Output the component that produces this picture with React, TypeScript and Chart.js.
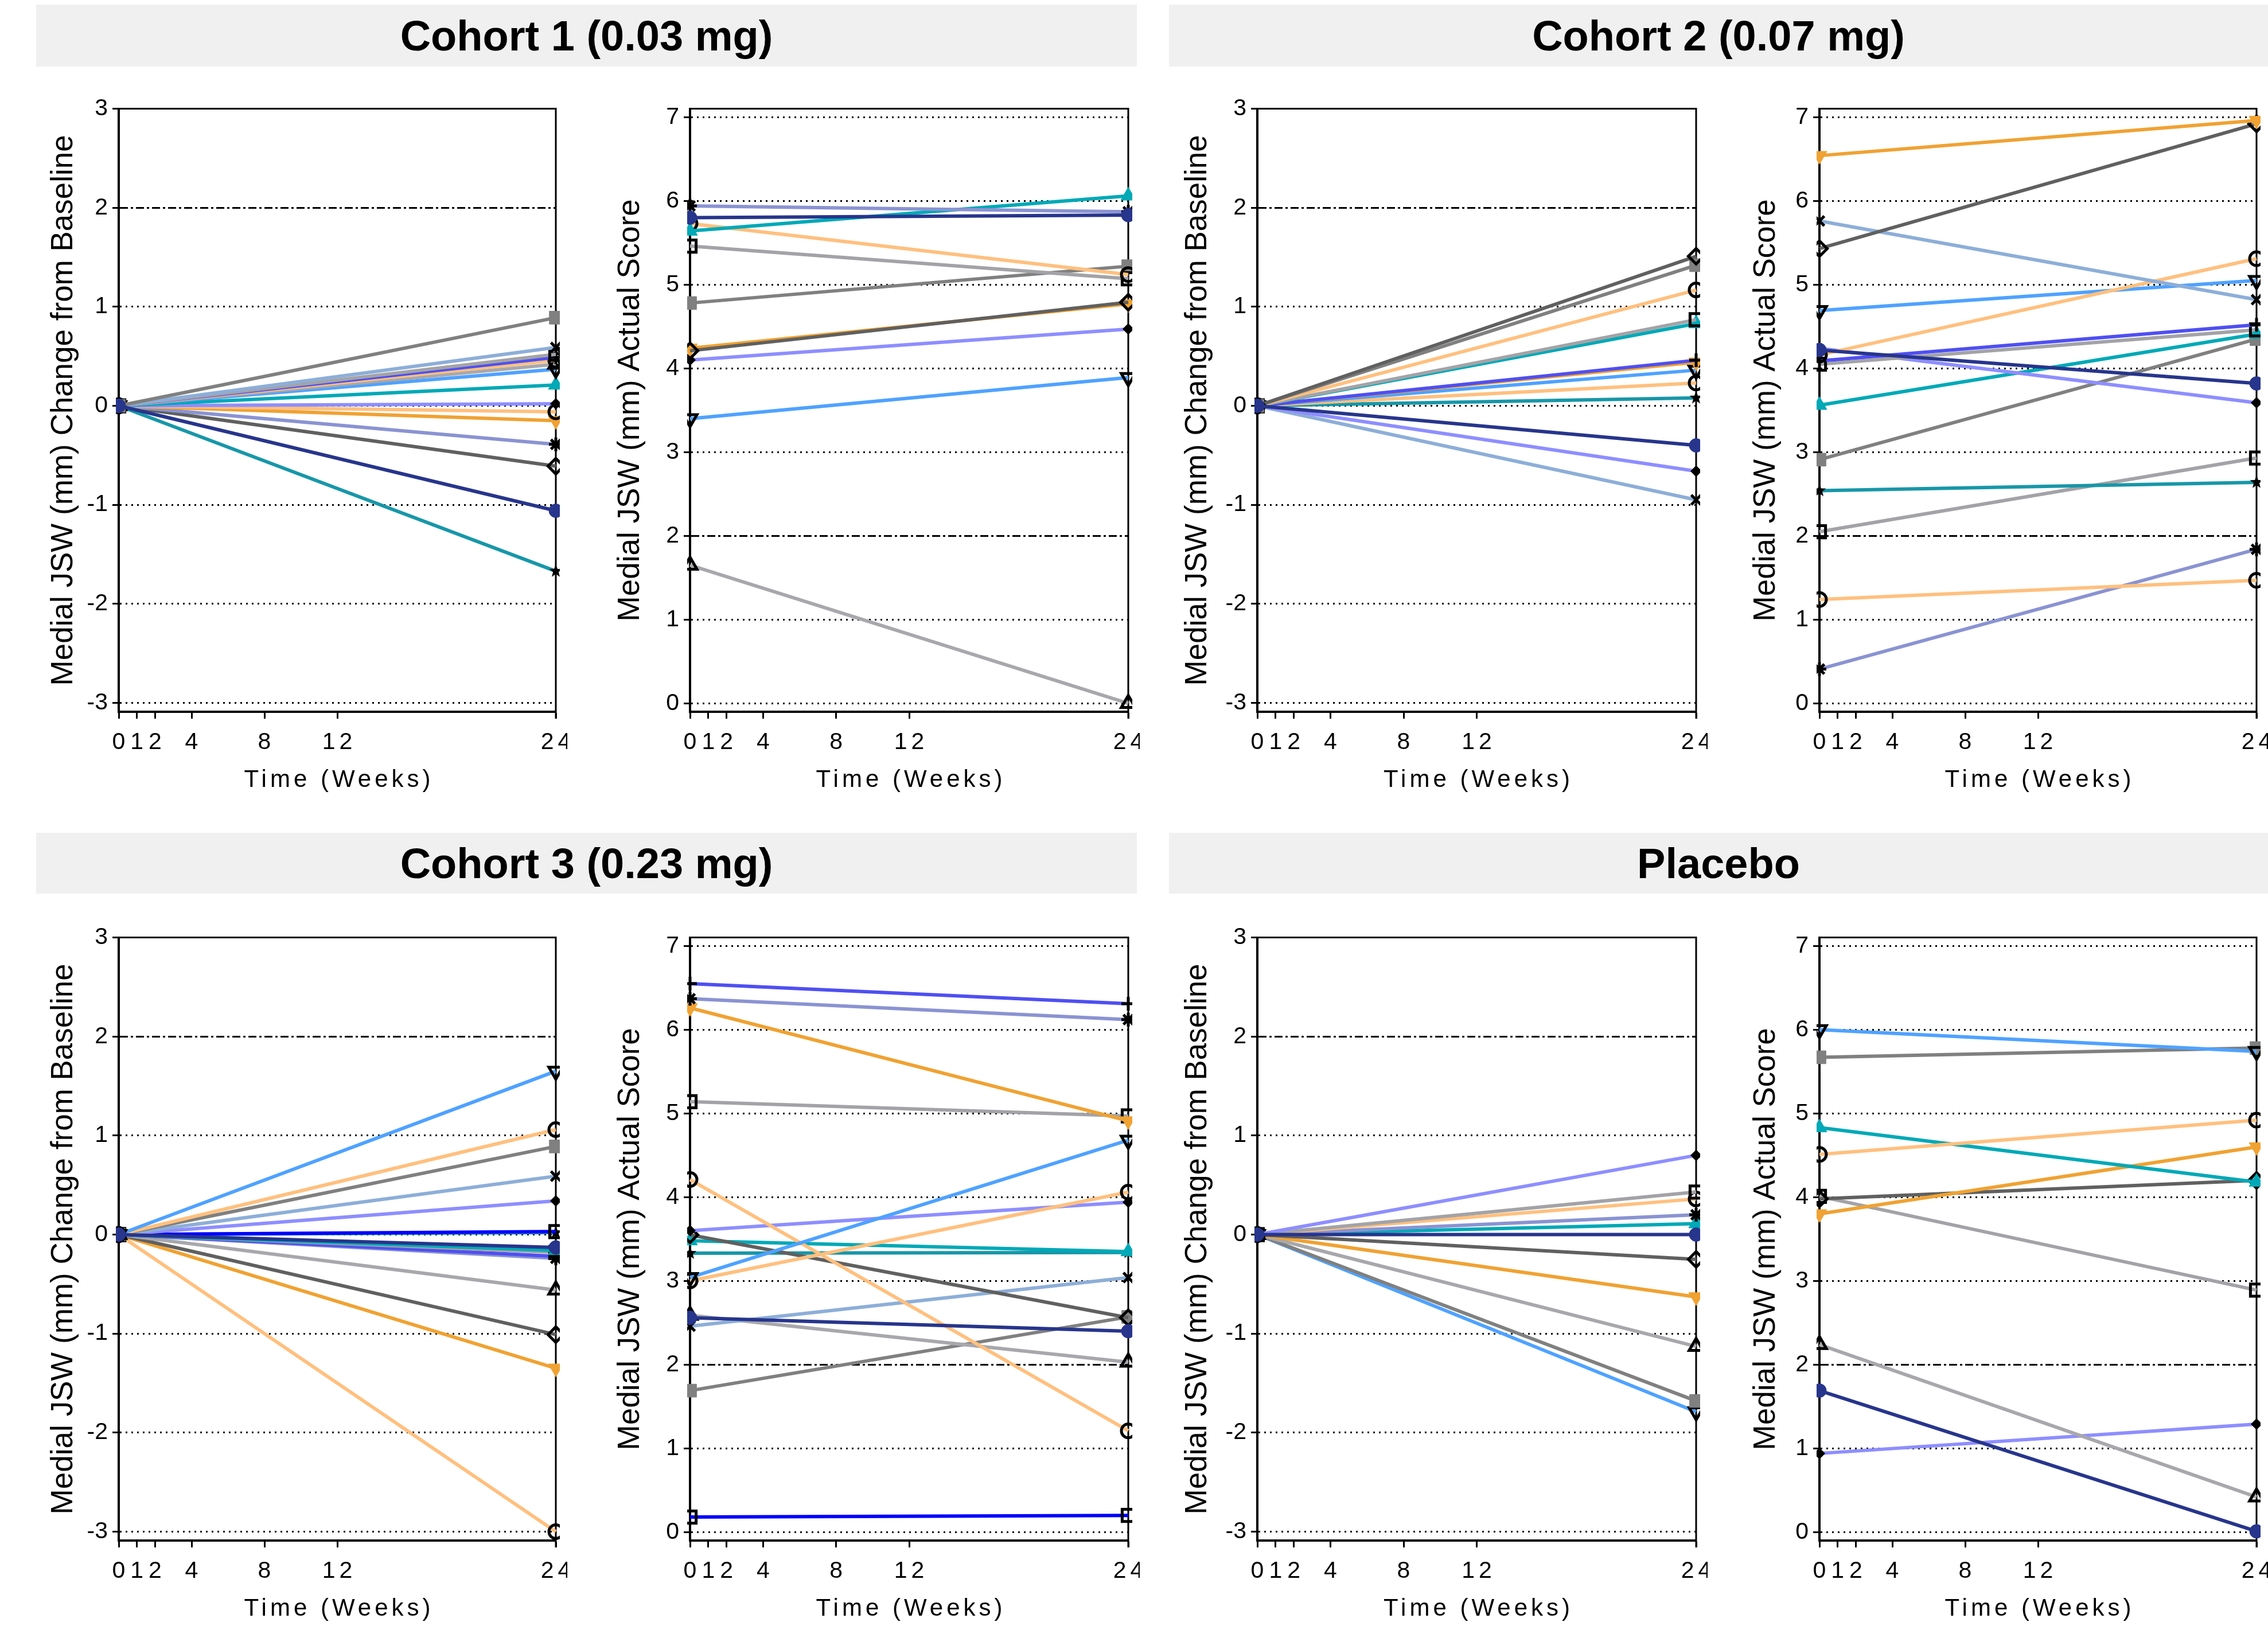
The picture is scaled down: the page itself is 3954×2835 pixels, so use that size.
import React, { useEffect, useRef } from 'react';
import { Chart, registerables } from 'chart.js';

Chart.register(...registerables);

const FONT = "'Liberation Sans', Arial, Helvetica, sans-serif";
const NARROW = "'Liberation Sans Narrow', 'Arial Narrow', 'Liberation Sans', Arial, sans-serif";
Chart.defaults.font.family = FONT;

// ---------------- data ----------------
const weeks = [0, 24];
const xTickValues = [0, 1, 2, 4, 8, 12, 24];
const xTickLabels = ['0', '1', '2', '4', '8', '12', '24'];
const changeTicks = [-3, -2, -1, 0, 1, 2, 3];
const actualTicks = [0, 1, 2, 3, 4, 5, 6, 7];
const baselineChange = 0;
const referenceLevel = 2;

const panelTitles = ['Cohort 1 (0.03 mg)', 'Cohort 2 (0.07 mg)', 'Cohort 3 (0.23 mg)', 'Placebo'];
const changeAxisTitle = 'Medial JSW (mm) Change from Baseline';
const actualAxisTitle = 'Medial JSW (mm) Actual Score';
const timeAxisTitle = 'Time (Weeks)';

// Cohort 1
const cohort1ChangeSubjects = ['A', 'B', 'C', 'N', 'E', 'K', 'J', 'D', 'F', 'E', 'L', 'H', 'G', 'I', 'M'];
const cohort1ChangeWeek24 = [0.89, 0.59, 0.52, 0.49, 0.46, 0.42, 0.37, 0.21, 0.02, -0.06, -0.15, -0.39, -0.61, -1.06, -1.67];
const cohort1ActualSubjects = ['H', 'I', 'D', 'E', 'C', 'A', 'G', 'L', 'F', 'J', 'K'];
const cohort1ActualWeek0 = [5.94, 5.80, 5.64, 5.73, 5.46, 4.78, 4.21, 4.24, 4.10, 3.40, 1.65];
const cohort1ActualWeek24 = [5.87, 5.83, 6.06, 5.12, 5.07, 5.22, 4.79, 4.77, 4.47, 3.89, 0.0];

// Cohort 2
const cohort2ChangeSubjects = ['G', 'A', 'E', 'C', 'D', 'N', 'L', 'J', 'E', 'M', 'I', 'F', 'B'];
const cohort2ChangeWeek24 = [1.51, 1.42, 1.17, 0.87, 0.83, 0.46, 0.44, 0.36, 0.23, 0.08, -0.40, -0.66, -0.95];
const cohort2ActualSubjects = ['L', 'G', 'B', 'E', 'J', 'N', 'C', 'I', 'F', 'D', 'A', 'M', 'C', 'E', 'H'];
const cohort2ActualWeek0 = [6.54, 5.43, 5.76, 4.16, 4.69, 4.09, 4.05, 4.22, 4.24, 3.56, 2.91, 2.54, 2.05, 1.24, 0.41];
const cohort2ActualWeek24 = [6.96, 6.92, 4.82, 5.31, 5.05, 4.52, 4.46, 3.82, 3.59, 4.41, 4.35, 2.64, 2.93, 1.47, 1.84];

// Cohort 3
const cohort3ChangeSubjects = ['J', 'E', 'A', 'B', 'F', 'O', 'M', 'I', 'D', 'C', 'N', 'H', 'K', 'G', 'L', 'E'];
const cohort3ChangeWeek24 = [1.65, 1.06, 0.89, 0.59, 0.34, 0.03, 0.02, -0.13, -0.16, -0.18, -0.22, -0.24, -0.56, -1.01, -1.35, -3.0];
const cohort3ActualSubjects = ['N', 'H', 'L', 'C', 'J', 'E', 'E', 'F', 'G', 'D', 'M', 'B', 'I', 'K', 'A', 'O'];
const cohort3ActualWeek0 = [6.55, 6.37, 6.26, 5.14, 3.04, 4.21, 3.00, 3.60, 3.55, 3.48, 3.33, 2.46, 2.56, 2.59, 1.69, 0.18];
const cohort3ActualWeek24 = [6.31, 6.12, 4.91, 4.97, 4.68, 1.21, 4.06, 3.94, 2.56, 3.35, 3.34, 3.04, 2.40, 2.03, 2.57, 0.20];

// Placebo
const placeboChangeSubjects = ['F', 'C', 'E', 'H', 'D', 'I', 'G', 'L', 'K', 'A', 'J'];
const placeboChangeWeek24 = [0.80, 0.43, 0.36, 0.20, 0.11, 0.0, -0.25, -0.63, -1.13, -1.68, -1.79];
const placeboActualSubjects = ['J', 'A', 'E', 'D', 'L', 'G', 'C', 'K', 'I', 'F'];
const placeboActualWeek0 = [6.00, 5.67, 4.51, 4.83, 3.80, 3.98, 4.01, 2.24, 1.69, 0.94];
const placeboActualWeek24 = [5.74, 5.78, 4.92, 4.18, 4.60, 4.20, 2.89, 0.42, 0.01, 1.29];

// ---------------- styles ----------------
const CLEAR = 'rgba(0,0,0,0)';
const STYLES: any = {
  A: { color: '#808080', point: 'rect', radius: 16, fill: '#808080', stroke: '#808080', pw: 1 },
  B: { color: '#8DAED8', point: 'crossRot', radius: 12, fill: CLEAR, stroke: '#000', pw: 5 },
  C: { color: '#A3A3A7', point: 'rect', radius: 15, fill: CLEAR, stroke: '#000', pw: 5 },
  D: { color: '#00A9B7', point: 'triangle', radius: 15, fill: '#00A9B7', stroke: '#00A9B7', pw: 1 },
  E: { color: '#FFC07F', point: 'circle', radius: 12, fill: CLEAR, stroke: '#000', pw: 5 },
  F: { color: '#8E8EFF', point: 'rectRot', radius: 9.5, fill: '#000', stroke: '#000', pw: 1 },
  G: { color: '#606060', point: 'rectRot', radius: 13.5, fill: CLEAR, stroke: '#000', pw: 5 },
  H: { color: '#8A93D2', point: 'star', radius: 12, fill: '#000', stroke: '#000', pw: 5 },
  I: { color: '#27358C', point: 'circle', radius: 12, fill: '#27358C', stroke: '#27358C', pw: 1 },
  J: { color: '#4FA2FF', point: 'triangle', rot: 180, radius: 14, fill: CLEAR, stroke: '#000', pw: 5 },
  K: { color: '#A8A8AC', point: 'triangle', radius: 14, fill: CLEAR, stroke: '#000', pw: 5 },
  L: { color: '#F0A232', point: 'triangle', rot: 180, radius: 15, fill: '#F0A232', stroke: '#F0A232', pw: 1 },
  M: { color: '#1797A8', point: 'starFilled', radius: 10, fill: '#000', stroke: '#000', pw: 1 },
  N: { color: '#4F4FF2', point: 'cross', radius: 12, fill: '#000', stroke: '#000', pw: 5 },
  O: { color: '#0000FF', point: 'rect', radius: 15, fill: CLEAR, stroke: '#000', pw: 5 },
};

// ---------------- layout ----------------
const PAD_T = 30;
const PAD_R = 14;
const X_AXIS_H = 170;
const ROWS = [
  { top: 187, bottom: 1241, headerTop: 8, headerH: 108 },
  { top: 1632, bottom: 2686, headerTop: 1452, headerH: 106 },
];
const COLS = [
  { axis: 207, right: 975, title: 111 },
  { axis: 1203, right: 1973, title: 1099 },
  { axis: 2192, right: 2963, title: 2088 },
  { axis: 3172, right: 3940, title: 3079 },
];
const HEADERS = [
  { left: 63, width: 1919 },
  { left: 2038, width: 1916 },
];

let starCache: any = null;
function starImage() {
  if (starCache) return starCache;
  const size = 24;
  const c = document.createElement('canvas');
  c.width = size;
  c.height = size;
  const g = c.getContext('2d') as CanvasRenderingContext2D;
  const R = size / 2;
  const r = R * 0.42;
  g.beginPath();
  for (let i = 0; i < 10; i++) {
    const ang = -Math.PI / 2 + (i * Math.PI) / 5;
    const rad = i % 2 === 0 ? R : r;
    const px = R + rad * Math.cos(ang);
    const py = R + rad * Math.sin(ang);
    if (i === 0) g.moveTo(px, py);
    else g.lineTo(px, py);
  }
  g.closePath();
  g.fillStyle = '#000';
  g.fill();
  starCache = c;
  return c;
}

function makeDataset(subject: string, y0: number, y24: number) {
  const st = STYLES[subject];
  return {
    data: [
      { x: weeks[0], y: y0 },
      { x: weeks[1], y: y24 },
    ],
    borderColor: st.color,
    backgroundColor: st.color,
    borderWidth: 6,
    tension: 0,
    fill: false,
    pointStyle: st.point === 'starFilled' ? starImage() : st.point,
    pointRadius: st.radius,
    pointRotation: st.rot || 0,
    pointBackgroundColor: st.fill,
    pointBorderColor: st.stroke,
    pointBorderWidth: st.pw,
    clip: { left: 5, right: 7, top: 40, bottom: 40 },
    order: subject === 'I' ? -1 : 0,
  };
}

function changeDatasets(subjects: string[], week24: number[]) {
  return subjects.map((s, i) => makeDataset(s, baselineChange, week24[i]));
}
function actualDatasets(subjects: string[], week0: number[], week24: number[]) {
  return subjects.map((s, i) => makeDataset(s, week0[i], week24[i]));
}

const framePlugin = {
  id: 'frame',
  beforeDatasetsDraw(chart: any) {
    const { ctx, chartArea: a } = chart;
    ctx.save();
    ctx.strokeStyle = '#000';
    ctx.lineWidth = 3;
    ctx.setLineDash([]);
    ctx.beginPath();
    ctx.moveTo(a.left, a.top);
    ctx.lineTo(a.right, a.top);
    ctx.lineTo(a.right, a.bottom + 12);
    ctx.stroke();
    ctx.restore();
  },
};

const xLabelPlugin = {
  id: 'xLabels',
  afterDraw(chart: any) {
    const { ctx } = chart;
    const xs = chart.scales.x;
    ctx.save();
    ctx.fillStyle = '#000';
    ctx.textAlign = 'center';
    ctx.textBaseline = 'middle';
    ctx.font = `41px ${NARROW}`;
    const sp1 = 7;
    (ctx as any).letterSpacing = `${sp1}px`;
    xTickValues.forEach((v, i) => {
      ctx.fillText(xTickLabels[i], xs.getPixelForValue(v) + sp1 / 2, xs.top + 54);
    });
    ctx.font = `42px ${FONT}`;
    const sp2 = 6;
    (ctx as any).letterSpacing = `${sp2}px`;
    ctx.fillText(timeAxisTitle, (chart.chartArea.left + chart.chartArea.right) / 2 + sp2 / 2, xs.top + 119);
    ctx.restore();
  },
};

function Panel({ row, col, kind, datasets }: any) {
  const ref = useRef<HTMLCanvasElement>(null);
  const R = ROWS[row];
  const C = COLS[col];
  const left = C.title - 40;
  const yWidth = C.axis - left;
  const width = C.right - left + PAD_R;
  const top = R.top - PAD_T;
  const height = PAD_T + (R.bottom - R.top) + X_AXIS_H;
  const isChange = kind === 'change';
  const yTicks = isChange ? changeTicks : actualTicks;

  useEffect(() => {
    if (!ref.current) return;
    const chart = new Chart(ref.current, {
      type: 'line',
      data: { datasets },
      plugins: [framePlugin, xLabelPlugin],
      options: {
        responsive: false,
        animation: false,
        devicePixelRatio: 1,
        events: [],
        layout: { padding: { left: 0, right: PAD_R, top: PAD_T, bottom: 0 } },
        plugins: { legend: { display: false }, tooltip: { enabled: false }, title: { display: false } },
        scales: {
          x: {
            type: 'linear',
            min: 0,
            max: 24,
            afterBuildTicks: (s: any) => {
              s.ticks = xTickValues.map((v) => ({ value: v }));
            },
            afterFit: (s: any) => {
              s.height = X_AXIS_H;
            },
            grid: { drawOnChartArea: false, drawTicks: true, tickLength: 12, tickWidth: 3, tickColor: '#000' },
            border: { display: true, color: '#000', width: 4 },
            ticks: { display: false },
          },
          y: {
            type: 'linear',
            min: isChange ? -3.09 : -0.1,
            max: isChange ? 3 : 7.1,
            afterBuildTicks: (s: any) => {
              s.ticks = yTicks.map((v) => ({ value: v }));
            },
            afterFit: (s: any) => {
              s.width = yWidth;
            },
            grid: {
              color: '#000',
              lineWidth: 3,
              drawTicks: true,
              tickLength: 11,
              tickWidth: 3,
              tickColor: '#000',
              tickBorderDash: [],
            },
            border: {
              display: true,
              color: '#000',
              width: 4,
              dash: (c: any) => (c && c.tick ? (c.tick.value === referenceLevel ? [14, 5, 4, 5] : [3, 7]) : []),
            },
            ticks: { color: '#000', font: { size: 41, family: NARROW }, padding: 8 },
            title: {
              display: true,
              text: isChange ? changeAxisTitle : actualAxisTitle,
              color: '#000',
              font: { size: 53, lineHeight: 1, family: FONT },
              padding: { top: 13.5, bottom: 0 },
            },
          },
        },
      } as any,
    } as any);
    return () => chart.destroy();
  }, []);

  return (
    <canvas
      ref={ref}
      width={width}
      height={height}
      style={{ position: 'absolute', left, top, width, height }}
    />
  );
}

function Header({ row, col, text }: any) {
  const R = ROWS[row];
  const H = HEADERS[col];
  return (
    <div
      style={{
        position: 'absolute',
        left: H.left,
        top: R.headerTop,
        width: H.width,
        height: R.headerH,
        background: '#F0F0F0',
        display: 'flex',
        alignItems: 'center',
        justifyContent: 'center',
        fontFamily: FONT,
        fontWeight: 'bold',
        fontSize: 74,
        color: '#000',
        whiteSpace: 'nowrap',
      }}
    >
      {text}
    </div>
  );
}

export default function App() {
  return (
    <div
      style={{
        position: 'fixed',
        left: 0,
        top: 0,
        width: 3954,
        height: 2835,
        background: '#fff',
        overflow: 'hidden',
      }}
    >
      <Header row={0} col={0} text={panelTitles[0]} />
      <Header row={0} col={1} text={panelTitles[1]} />
      <Header row={1} col={0} text={panelTitles[2]} />
      <Header row={1} col={1} text={panelTitles[3]} />

      <Panel row={0} col={0} kind="change" datasets={changeDatasets(cohort1ChangeSubjects, cohort1ChangeWeek24)} />
      <Panel row={0} col={1} kind="actual" datasets={actualDatasets(cohort1ActualSubjects, cohort1ActualWeek0, cohort1ActualWeek24)} />
      <Panel row={0} col={2} kind="change" datasets={changeDatasets(cohort2ChangeSubjects, cohort2ChangeWeek24)} />
      <Panel row={0} col={3} kind="actual" datasets={actualDatasets(cohort2ActualSubjects, cohort2ActualWeek0, cohort2ActualWeek24)} />

      <Panel row={1} col={0} kind="change" datasets={changeDatasets(cohort3ChangeSubjects, cohort3ChangeWeek24)} />
      <Panel row={1} col={1} kind="actual" datasets={actualDatasets(cohort3ActualSubjects, cohort3ActualWeek0, cohort3ActualWeek24)} />
      <Panel row={1} col={2} kind="change" datasets={changeDatasets(placeboChangeSubjects, placeboChangeWeek24)} />
      <Panel row={1} col={3} kind="actual" datasets={actualDatasets(placeboActualSubjects, placeboActualWeek0, placeboActualWeek24)} />
    </div>
  );
}
